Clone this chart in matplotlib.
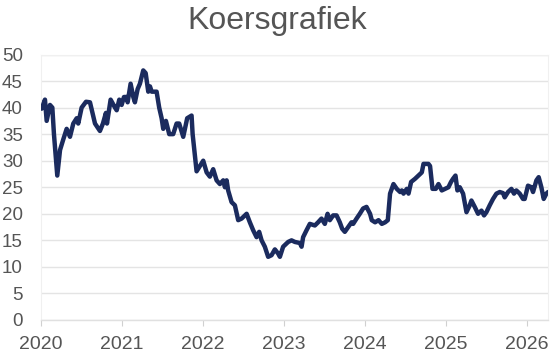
import numpy as np
import matplotlib
matplotlib.use('Agg')
import matplotlib.pyplot as plt

# koers per datum (decimaal jaar)
years = [2020.009, 2020.049, 2020.070, 2020.111, 2020.140, 2020.160, 2020.201,
         2020.235, 2020.275, 2020.317, 2020.358, 2020.399, 2020.441, 2020.460,
         2020.502, 2020.556, 2020.605, 2020.667, 2020.728, 2020.765, 2020.802,
         2020.815, 2020.860, 2020.914, 2020.935, 2020.967, 2020.996,
         2021.025, 2021.058, 2021.070, 2021.107, 2021.140, 2021.160, 2021.194,
         2021.222, 2021.263, 2021.293, 2021.325, 2021.346, 2021.367, 2021.428,
         2021.460, 2021.490, 2021.510, 2021.543, 2021.584, 2021.633, 2021.675,
         2021.707, 2021.757, 2021.806, 2021.860, 2021.873, 2021.922, 2021.963,
         2022.004, 2022.046, 2022.086, 2022.127, 2022.169, 2022.210, 2022.251,
         2022.272, 2022.293, 2022.312, 2022.354, 2022.395, 2022.436, 2022.478,
         2022.540, 2022.580, 2022.621, 2022.663, 2022.695, 2022.725, 2022.765,
         2022.806, 2022.848, 2022.889, 2022.930, 2022.951, 2022.991,
         2023.053, 2023.095, 2023.136, 2023.198, 2023.219, 2023.238, 2023.280,
         2023.321, 2023.383, 2023.423, 2023.465, 2023.506, 2023.540, 2023.568,
         2023.609, 2023.651, 2023.691, 2023.720, 2023.753, 2023.794, 2023.836,
         2023.856, 2023.898, 2023.938, 2023.979,
         2024.021, 2024.065, 2024.086, 2024.127, 2024.169, 2024.210, 2024.251,
         2024.284, 2024.312, 2024.354, 2024.395, 2024.436, 2024.457, 2024.478,
         2024.519, 2024.540, 2024.572, 2024.621, 2024.663, 2024.704, 2024.725,
         2024.786, 2024.806, 2024.836, 2024.877, 2024.910, 2024.951, 2024.991,
         2025.033, 2025.065, 2025.090, 2025.120, 2025.144, 2025.173, 2025.214,
         2025.256, 2025.296, 2025.317, 2025.358, 2025.399, 2025.441, 2025.473,
         2025.502, 2025.543, 2025.584, 2025.626, 2025.667, 2025.707, 2025.728,
         2025.769, 2025.811, 2025.843, 2025.872, 2025.914, 2025.954, 2025.975,
         2026.016, 2026.058, 2026.078, 2026.120, 2026.148, 2026.181, 2026.210,
         2026.243, 2026.263]
prices = [39.8, 41.5, 37.5, 40.5, 40.0, 35.0, 27.2,
          32.0, 34.0, 36.0, 34.5, 37.0, 38.0, 37.0,
          40.0, 41.1, 41.0, 37.0, 35.6, 37.0, 39.0,
          37.0, 41.5, 40.0, 39.5, 41.5, 40.5,
          42.0, 42.0, 41.0, 44.5, 42.0, 41.0, 43.5,
          44.5, 47.0, 46.5, 43.0, 44.0, 43.0, 43.0,
          40.0, 38.0, 36.0, 37.5, 35.0, 35.0, 37.0,
          37.0, 34.5, 38.0, 38.5, 35.0, 28.0, 29.0,
          30.0, 27.8, 27.0, 28.4, 26.3, 25.6, 26.3,
          25.0, 26.3, 24.4, 22.2, 21.6, 18.8, 19.1,
          20.0, 18.4, 16.9, 15.6, 16.6, 15.0, 13.8,
          11.9, 12.2, 13.3, 12.5, 11.9, 13.8,
          14.7, 15.0, 14.7, 14.5, 13.8, 15.6, 16.9,
          18.1, 17.8, 18.4, 19.1, 18.1, 20.0, 18.8,
          19.7, 19.7, 18.4, 17.2, 16.6, 17.5, 18.4,
          18.1, 19.1, 20.0, 21.0,
          21.3, 20.0, 18.8, 18.4, 18.8, 18.1, 18.4,
          18.8, 23.8, 25.6, 24.7, 24.1, 24.4, 23.8,
          24.7, 23.8, 26.0, 26.6, 27.2, 27.8, 29.4,
          29.4, 29.0, 24.7, 24.7, 25.6, 24.4, 24.7,
          25.0, 26.0, 26.6, 27.2, 24.4, 25.0, 23.8,
          20.3, 21.6, 22.5, 21.3, 20.0, 20.6, 19.7,
          20.3, 21.6, 22.8, 23.8, 24.1, 23.9, 23.1,
          24.1, 24.7, 23.8, 24.4, 23.8, 22.8, 22.8,
          25.3, 25.0, 24.1, 26.3, 26.9, 25.0, 22.8,
          23.8, 24.1]
year_ticks = [2020, 2021, 2022, 2023, 2024, 2025, 2026]
value_ticks = [0, 5, 10, 15, 20, 25, 30, 35, 40, 45, 50]

plt.rcParams['font.family'] = ['Liberation Sans', 'DejaVu Sans']
text_color = '#555555'
line_color = '#1b2b5e'

fig = plt.figure(figsize=(5.55, 3.59), dpi=100)
ax = fig.add_axes([41/555, 1 - 320/359, (548 - 41)/555, (320 - 54.5)/359])

ax.plot(years, prices, '-', color=line_color, lw=3.2, solid_joinstyle='round',
        solid_capstyle='round', zorder=3)

ax.set_xlim(2020, 2026.263)
ax.set_ylim(0, 50)
ax.set_xticks(year_ticks)
ax.set_xticklabels([str(y) for y in year_ticks])
ax.set_yticks(value_ticks)
ax.yaxis.grid(True, color='#e4e4e4', lw=1.0, zorder=0)
ax.tick_params(axis='y', length=0, pad=13, labelsize=13.5, labelcolor=text_color)
ax.tick_params(axis='x', length=4.5, width=0.8, color='#d0d0d0', pad=7,
               labelsize=14, labelcolor=text_color)
for side in ['top', 'right', 'left']:
    ax.spines[side].set_color('#f0f0f0')
    ax.spines[side].set_linewidth(0.8)
ax.spines['bottom'].set_color('#e0e0e0')
ax.spines['bottom'].set_linewidth(1.0)

fig.text(0.5, 1 - 29.5/359, 'Koersgrafiek', ha='center', va='baseline',
         fontsize=23, color=text_color)

fig.savefig('out.png', dpi=100)
